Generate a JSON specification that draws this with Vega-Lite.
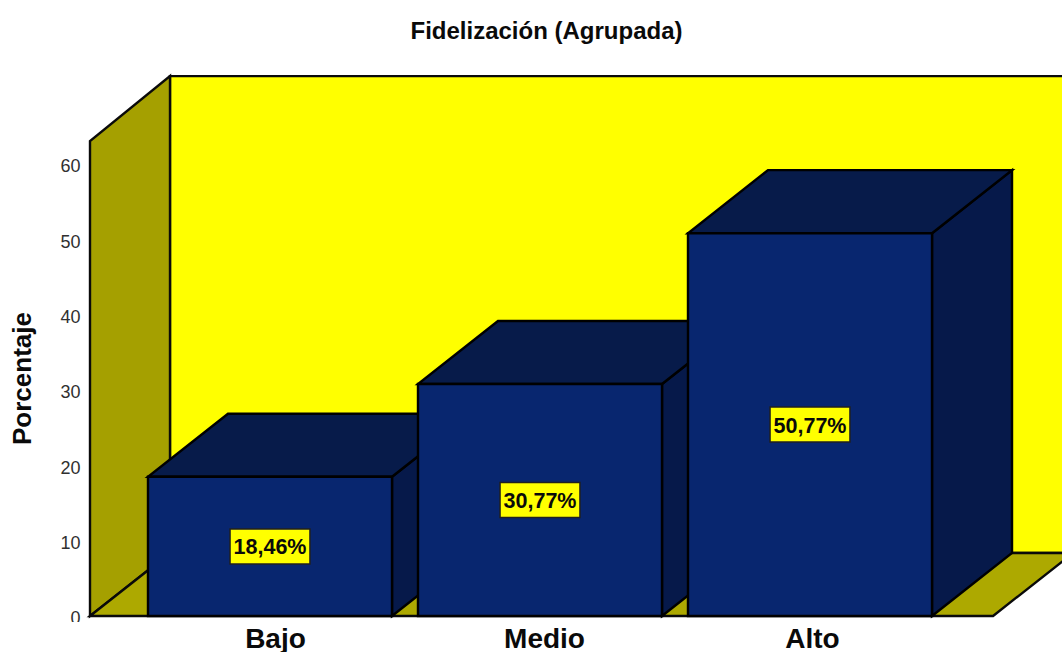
{
"$schema":"https://vega.github.io/schema/vega-lite/v6.json",
"width":1062,"height":652,"padding":0,"autosize":{"type":"none"},
"background":"white",
"config":{"view":{"stroke":null},"font":"Liberation Sans"},
"title":{"text":"Fidelización (Agrupada)","font":"Liberation Sans","fontSize":24,"fontWeight":"bold","color":"#0a0a0a","anchor":"middle","frame":"group","dx":15.5,"offset":-63,"baseline":"alphabetic"},
"datasets":{
"niveles":[{"Nivel":"Bajo","pos":1,"Porcentaje":18.46},{"Nivel":"Medio","pos":2,"Porcentaje":30.77},{"Nivel":"Alto","pos":3,"Porcentaje":50.77}],
"marco":[{"c":0,"e":0},{"c":1,"e":1},{"c":2,"e":2},{"c":3,"e":3}]
},
"encoding":{
"x":{"field":"u","type":"quantitative","title":null,"scale":{"domain":[0,3.93333],"nice":false,"zero":false},
"axis":{"values":[1.0185,2.0148,3.0074],"labelExpr":"datum.value<1.5?'Bajo':datum.value<2.5?'Medio':'Alto'","offset":-36,"domain":false,"ticks":false,"grid":false,"labelPadding":31,"labelBaseline":"alphabetic","labelFontSize":28,"labelFontWeight":"bold","labelColor":"#0a0a0a","labelOverlap":false,"labelFlush":false,"zindex":1}},
"y":{"field":"lo","type":"quantitative","scale":{"domain":[-4.775,81.698],"nice":false,"zero":false},
"axis":{"values":[0,10,20,30,40,50,60],"offset":-90,"domain":false,"ticks":false,"grid":false,"labelPadding":10,"labelOffset":3,"labelFontSize":18,"labelColor":"#303030","labelBaseline":"middle","labelOverlap":false,"labelFlush":false,"title":"Porcentaje","titleFont":"Liberation Sans","titleFontSize":26,"titleFontWeight":"bold","titleColor":"#0a0a0a","titleAnchor":"start","titleX":-60,"titleY":378,"titleAlign":"center","titleBaseline":"alphabetic","zindex":0}}
},
"layer":[
{"data":{"name":"marco"},"transform":[{"filter":"datum.c==0"},{"calculate":"-0.8","as":"lo"},{"calculate":"-4.775","as":"hi"},{"calculate":"0","as":"u"},{"calculate":"3.93333","as":"u2"}],
"mark":{"type":"rect","fill":"white"},"encoding":{"x2":{"field":"u2"},"y2":{"field":"hi"}}},
{"data":{"name":"marco"},"transform":[{"filter":"datum.c==0"},{"calculate":"8.36","as":"lo"},{"calculate":"71.6","as":"hi"},{"calculate":"0.6296","as":"u"},{"calculate":"4.3","as":"u2"}],
"mark":{"type":"rect","fill":"#ffff00","stroke":"#0a0a0a","strokeWidth":2.4},"encoding":{"x2":{"field":"u2"},"y2":{"field":"hi"}}},
{"data":{"name":"marco"},"transform":[{"filter":"datum.c<2"},{"calculate":"0.33333+datum.c*0.2963","as":"u"},{"calculate":"datum.c*8.36","as":"lo"},{"calculate":"63+datum.c*8.6","as":"hi"}],
"mark":{"type":"area","fill":"#a5a000","stroke":"#0a0a0a","strokeWidth":2.4},"encoding":{"y2":{"field":"hi"}}},
{"data":{"name":"marco"},"transform":[{"calculate":"(datum.c<2?0.33333:3.678)+(datum.c%2?0.2963:0)","as":"u"},{"calculate":"datum.c==3?8.36:0","as":"lo"},{"calculate":"datum.c==0?0:8.36","as":"hi"}],
"mark":{"type":"area","fill":"#ada900","stroke":"#0a0a0a","strokeWidth":2.4},"encoding":{"y2":{"field":"hi"}}},
{"data":{"name":"niveles"},"transform":[{"calculate":"[0,1]","as":"c"},{"flatten":["c"]},{"calculate":"datum.pos+0.4519+datum.c*0.2963","as":"u"},{"calculate":"datum.c*8.36","as":"lo"},{"calculate":"datum.Porcentaje+datum.c*8.36","as":"hi"}],
"mark":{"type":"area","fill":"#06194a","stroke":"#000000","strokeWidth":2.4},"encoding":{"y2":{"field":"hi"},"detail":{"field":"Nivel"}}},
{"data":{"name":"niveles"},"transform":[{"calculate":"[0,1,2,3]","as":"c"},{"flatten":["c"]},{"calculate":"datum.pos+(datum.c%2?0.2963:0)+(datum.c<2?-0.4519:0.4519)","as":"u"},{"calculate":"datum.Porcentaje+(datum.c==3?8.36:0)","as":"lo"},{"calculate":"datum.Porcentaje+(datum.c==0?0:8.36)","as":"hi"}],
"mark":{"type":"area","fill":"#071b4a","stroke":"#000000","strokeWidth":2.4},"encoding":{"y2":{"field":"hi"},"detail":{"field":"Nivel"}}},
{"data":{"name":"niveles"},"transform":[{"calculate":"datum.pos-0.4519","as":"u"},{"calculate":"datum.pos+0.4519","as":"u2"},{"calculate":"0","as":"lo"},{"calculate":"datum.Porcentaje","as":"hi"}],
"mark":{"type":"rect","fill":"#08266f","stroke":"#000000","strokeWidth":2.4},"encoding":{"x2":{"field":"u2"},"y2":{"field":"hi"}}},
{"data":{"name":"niveles"},"transform":[{"calculate":"datum.pos-0.148","as":"u"},{"calculate":"datum.pos+0.148","as":"u2"},{"calculate":"datum.Porcentaje/2-2.32","as":"lo"},{"calculate":"datum.Porcentaje/2+2.32","as":"hi"}],
"mark":{"type":"rect","fill":"#ffff00","stroke":"#202020","strokeWidth":1.5},"encoding":{"x2":{"field":"u2"},"y2":{"field":"hi"}}},
{"data":{"name":"niveles"},"transform":[{"calculate":"datum.pos","as":"u"},{"calculate":"datum.Porcentaje/2","as":"lo"},{"calculate":"replace(format(datum.Porcentaje,'.2f'),'.',',')+'%'","as":"etiqueta"}],
"mark":{"type":"text","font":"Liberation Sans","fontWeight":"bold","fontSize":21.5,"color":"#0a0a0a","baseline":"middle","align":"center","dy":2},"encoding":{"text":{"field":"etiqueta"}}}
]
}
